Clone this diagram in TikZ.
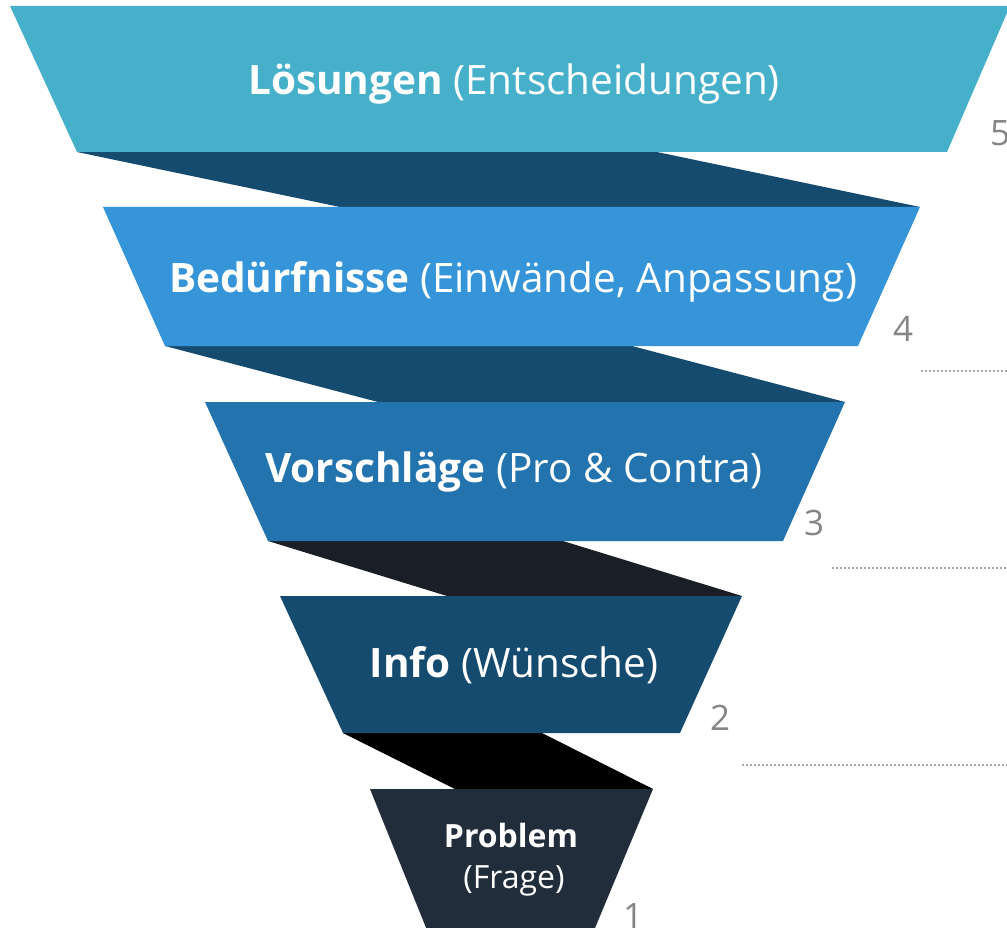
\documentclass[tikz,border=0pt]{standalone}
\usepackage{fontspec}
\setmainfont{Open Sans}
\definecolor{cT1}{HTML}{46B0CB}
\definecolor{cT2}{HTML}{3595D8}
\definecolor{cT3}{HTML}{2273AE}
\definecolor{cT4}{HTML}{154B6F}
\definecolor{cT5}{HTML}{222D3B}
\definecolor{cR1}{HTML}{154B6F}
\definecolor{cR3}{HTML}{1A1F27}
\definecolor{cR4}{HTML}{000000}
\definecolor{cNum}{HTML}{858585}
\definecolor{cDot}{HTML}{A6A6A6}
\tikzset{
  lbl/.style={text=white, inner sep=0pt, anchor=base, font=\fontsize{40.5}{46}\selectfont},
  smalllbl/.style={text=white, inner sep=0pt, anchor=base, font=\fontsize{32}{38}\selectfont},
  numlbl/.style={text=cNum, inner sep=0pt, anchor=base west, font=\fontsize{35}{40}\selectfont},
  dotline/.style={cDot, line width=2pt, dash pattern=on 2pt off 2pt},
}
\begin{document}
\begin{tikzpicture}[x=1pt,y=-1pt]
\useasboundingbox (0,0) rectangle (1007,928);
% ribbons
\fill[cR1] (77,152) -- (657,152) -- (920,207) -- (340,207) -- cycle;
\fill[cR1] (165,346) -- (632,346) -- (845,402) -- (378,402) -- cycle;
\fill[cR3] (268,541) -- (563,541) -- (742,596) -- (447,596) -- cycle;
\fill[cR4] (343,733) -- (542,733) -- (653,789) -- (455,789) -- cycle;
% trapezoids
\fill[cT1] (10,6) -- (1010,6) -- (947,152) -- (77,152) -- cycle;
\fill[cT2] (103,207) -- (920,207) -- (858,346) -- (165,346) -- cycle;
\fill[cT3] (205,402) -- (845,402) -- (783,541) -- (268,541) -- cycle;
\fill[cT4] (280,596) -- (742,596) -- (680,733) -- (343,733) -- cycle;
\fill[cT5] (370,789) -- (653,789) -- (590,940) -- (431,940) -- cycle;
% labels
\node[lbl] (t1) at (514,95) {\textbf{Lösungen} (Entscheidungen)};
\node[lbl] (t2) at (513,292) {\textbf{Bedürfnisse} (Einwände, Anpassung)};
\node[lbl] (t3) at (514,482) {\textbf{Vorschläge} (Pro \& Contra)};
\node[lbl] (t4) at (514,677) {\textbf{Info} (Wünsche)};
\node[smalllbl] (t5a) at (511,847) {\textbf{Problem}};
\node[smalllbl] (t5b) at (514,888) {(Frage)};
% numbers
\node[numlbl] (n5) at (990,146) {5};
\node[numlbl] (n4) at (893,341) {4};
\node[numlbl] (n3) at (804,535) {3};
\node[numlbl] (n2) at (710,730) {2};
\node[numlbl] (n1) at (623,928) {1};
% dotted lines
\coordinate (d4a) at (921,371); \coordinate (d4b) at (1007,371);
\coordinate (d3a) at (832,568); \coordinate (d3b) at (1007,568);
\coordinate (d2a) at (742,765); \coordinate (d2b) at (1007,765);
\draw[dotline] (d4a) -- (d4b);
\draw[dotline] (d3a) -- (d3b);
\draw[dotline] (d2a) -- (d2b);
\end{tikzpicture}
\end{document}
